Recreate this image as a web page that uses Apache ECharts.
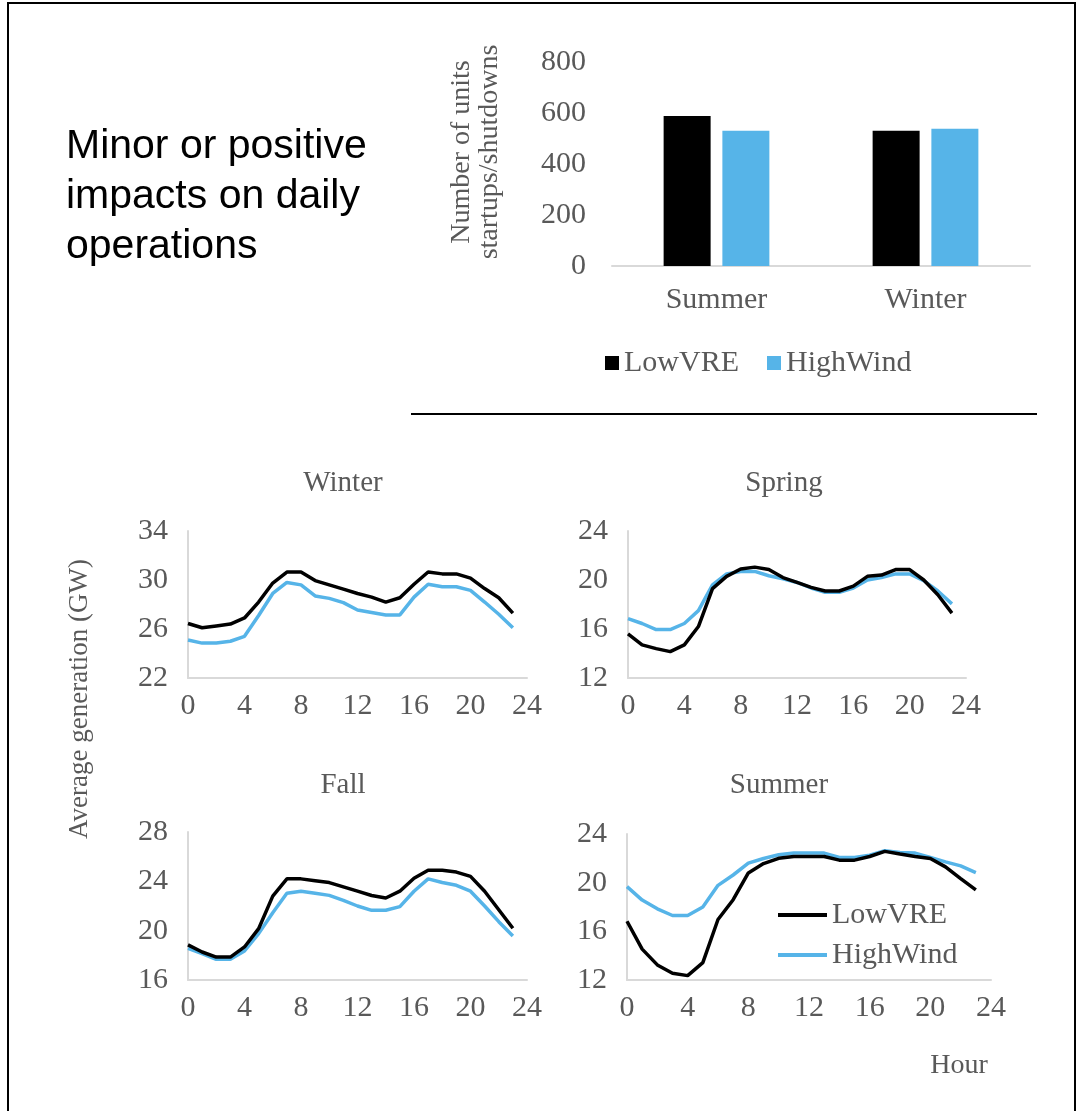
<!DOCTYPE html>
<html>
<head>
<meta charset="utf-8">
<script src="https://cdn.jsdelivr.net/npm/echarts@6/dist/echarts.min.js"></script>
<style>
html,body{margin:0;padding:0;background:#fff;}
#c{width:1084px;height:1111px;}
</style>
</head>
<body>
<div id="c"></div>
<script>
// ---- data ----
const hours = [0,1,2,3,4,5,6,7,8,9,10,11,12,13,14,15,16,17,18,19,20,21,22,23];
const barCategories = ['Summer','Winter'];
const barLowVRE = [588, 530];
const barHighWind = [530, 538];

const winterLow  = [26.45,26.1,26.25,26.4,26.9,28.2,29.75,30.65,30.65,29.95,29.6,29.25,28.9,28.6,28.2,28.55,29.65,30.65,30.5,30.5,30.15,29.3,28.55,27.3];
const winterHigh = [25.1,24.85,24.85,25.0,25.4,27.1,28.9,29.8,29.6,28.7,28.5,28.15,27.55,27.35,27.15,27.15,28.6,29.65,29.45,29.45,29.15,28.2,27.2,26.1];
const springLow  = [15.6,14.7,14.4,14.15,14.7,16.2,19.3,20.3,20.9,21.05,20.85,20.2,19.8,19.4,19.1,19.1,19.5,20.3,20.4,20.85,20.85,20.0,18.8,17.3];
const springHigh = [16.85,16.45,15.95,15.95,16.45,17.5,19.6,20.5,20.7,20.7,20.35,20.1,19.8,19.35,19.0,19.0,19.35,20.0,20.2,20.5,20.5,19.95,19.1,18.05];
const fallLow    = [18.85,18.27,17.86,17.86,18.68,20.16,22.8,24.2,24.2,24.05,23.9,23.55,23.2,22.85,22.65,23.2,24.25,24.9,24.9,24.75,24.4,23.2,21.7,20.2];
const fallHigh   = [18.57,18.14,17.68,17.68,18.35,19.76,21.46,23.03,23.2,23.03,22.86,22.46,22.0,21.65,21.65,21.95,23.2,24.2,23.9,23.68,23.2,22.0,20.73,19.57];
const summerLow  = [16.83,14.54,13.24,12.55,12.36,13.43,16.97,18.6,20.8,21.57,22.0,22.15,22.15,22.15,21.85,21.85,22.15,22.57,22.35,22.15,21.99,21.3,20.33,19.4];
const summerHigh = [19.67,18.57,17.85,17.3,17.3,18.0,19.78,20.63,21.6,21.99,22.29,22.43,22.43,22.43,22.07,22.07,22.26,22.62,22.48,22.43,22.07,21.71,21.38,20.83];

const panelTitles = ['Winter','Spring','Fall','Summer'];
const yRanges = [[22,34],[12,24],[16,28],[12,24]];
const seriesNames = ['LowVRE','HighWind'];

// ---- styles ----
const SERIF = 'Liberation Serif, Times New Roman, serif';
const GREY = '#595959';
const BLUE = '#56B4E8';
const AXIS = '#D9D9D9';

const pairs = (vals) => hours.map((h,i)=>[h, vals[i]]);
const lineData = [[winterLow,winterHigh],[springLow,springHigh],[fallLow,fallHigh],[summerLow,summerHigh]];

const grids = [
  {left:612, width:418, top:62, height:204},         // bar
  {left:188, width:339, top:531, height:147},        // winter
  {left:628, width:338, top:531, height:147},        // spring
  {left:188, width:339, top:832, height:148},        // fall
  {left:627, width:364, top:834, height:146}         // summer
];

const xAxes = [{
  gridIndex:0, type:'category', data:barCategories,
  axisLine:{show:true, lineStyle:{color:AXIS, width:2}},
  axisTick:{show:false},
  axisLabel:{color:GREY, fontFamily:SERIF, fontSize:30, margin:19}
}];
const yAxes = [{
  gridIndex:0, type:'value', min:0, max:800, interval:200,
  axisLine:{show:false}, axisTick:{show:false}, splitLine:{show:false},
  axisLabel:{color:GREY, fontFamily:SERIF, fontSize:30, margin:26}
}];
for (let k=0;k<4;k++){
  xAxes.push({
    gridIndex:k+1, type:'value', min:0, max:24, interval:4,
    axisLine:{show:true, onZero:false, lineStyle:{color:AXIS, width:2}},
    axisTick:{show:false}, splitLine:{show:false},
    axisLabel:{color:GREY, fontFamily:SERIF, fontSize:30, margin:13}
  });
  yAxes.push({
    gridIndex:k+1, type:'value', min:yRanges[k][0], max:yRanges[k][1], interval:4,
    axisLine:{show:true, lineStyle:{color:AXIS, width:2}},
    axisTick:{show:false}, splitLine:{show:false},
    axisLabel:{color:GREY, fontFamily:SERIF, fontSize:30, margin:20}
  });
}

const series = [
  {name:'LowVRE', type:'bar', xAxisIndex:0, yAxisIndex:0, data:barLowVRE, barWidth:47, barGap:'25%', itemStyle:{color:'#000000'}},
  {name:'HighWind', type:'bar', xAxisIndex:0, yAxisIndex:0, data:barHighWind, barWidth:47, itemStyle:{color:BLUE}}
];
for (let k=0;k<4;k++){
  [0,1].forEach(j=>{
    series.push({
      name: seriesNames[j] + (k===3 ? '' : ' '+panelTitles[k]),
      type:'line', xAxisIndex:k+1, yAxisIndex:k+1,
      data: pairs(lineData[k][j]),
      symbol:'none', smooth:false,
      lineStyle:{color: j===0 ? '#000000' : BLUE, width:3.5},
      itemStyle:{color: j===0 ? '#000000' : BLUE},
      z: j===0 ? 3 : 2
    });
  });
}
const titlePos = [[343,483],[784,483],[343,785],[779,785]];
const graphics = [
  {type:'rect', shape:{x:8, y:3, width:1067, height:1130}, style:{fill:'none', stroke:'#000', lineWidth:2}, silent:true},
  {type:'line', shape:{x1:411, y1:414, x2:1037, y2:414}, style:{stroke:'#000', lineWidth:2}, silent:true},
  {type:'text', x:66, y:122, style:{text:'Minor or positive\nimpacts on daily\noperations', font:'41px "Liberation Sans", Arial, sans-serif', fill:'#000', lineHeight:50, textVerticalAlign:'top'}},
  {type:'text', x:476, y:152, rotation:Math.PI/2, style:{text:'Number of units\nstartups/shutdowns', font:'28px ' + SERIF, fill:GREY, textAlign:'center', textVerticalAlign:'middle', lineHeight:28}},
  {type:'text', x:80, y:699, rotation:Math.PI/2, style:{text:'Average generation (GW)', font:'27px ' + SERIF, fill:GREY, textAlign:'center', textVerticalAlign:'middle'}},
  {type:'text', x:959, y:1066, style:{text:'Hour', font:'28px ' + SERIF, fill:GREY, textAlign:'center', textVerticalAlign:'middle'}}
];
panelTitles.forEach((t,i)=>{
  graphics.push({type:'text', x:titlePos[i][0], y:titlePos[i][1], style:{text:t, font:'29px ' + SERIF, fill:GREY, textAlign:'center', textVerticalAlign:'middle'}});
});

const chart = echarts.init(document.getElementById('c'), null, {renderer:'canvas'});
chart.setOption({
  backgroundColor:'#fff',
  animation:false,
  grid:grids,
  xAxis:xAxes,
  yAxis:yAxes,
  legend:[
    {data:[{name:'LowVRE', icon:'rect'},{name:'HighWind', icon:'rect'}], left:600, top:343, itemWidth:14, itemHeight:14, itemGap:28,
     textStyle:{color:GREY, fontFamily:SERIF, fontSize:30}, selectedMode:false},
    {data:[{name:'LowVRE', icon:'rect', itemStyle:{color:'#000'}},{name:'HighWind', icon:'rect', itemStyle:{color:BLUE}}], orient:'vertical', left:773, top:895, itemWidth:49, itemHeight:4, itemGap:10,
     textStyle:{color:GREY, fontFamily:SERIF, fontSize:30, lineHeight:30}, selectedMode:false}
  ],
  series:series,
  graphic:graphics
});
</script>
</body>
</html>
